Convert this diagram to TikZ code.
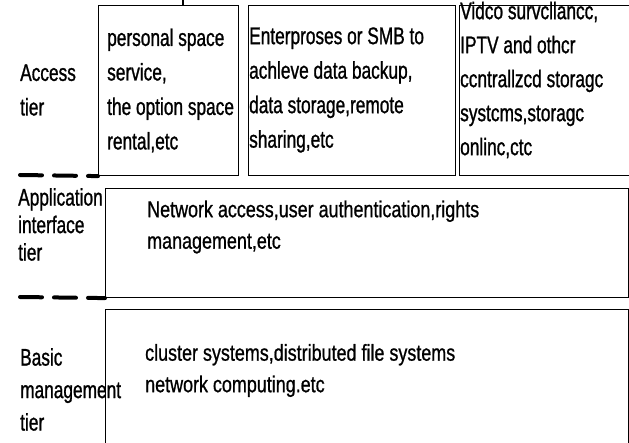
\documentclass[tikz,border=0pt]{standalone}
\usepackage{fontspec}
\setmainfont{Liberation Sans}
\newfontfamily\narrowfont[FakeStretch=0.72,FakeBold=1]{Liberation Sans}
\newfontfamily\bodyfont[FakeStretch=0.78,FakeBold=0.8]{Liberation Sans}
\usetikzlibrary{positioning}

\tikzset{
  tierbox/.style={draw,line width=1.1pt,inner sep=0pt,anchor=north west},
  tiertext/.style={align=left,anchor=west,inner sep=0pt,font=\narrowfont\fontsize{24}{#1}\selectfont},
  tiertext/.default=34.5,
  bodytext/.style={align=left,anchor=west,inner sep=0pt,font=\bodyfont\fontsize{23}{31.5}\selectfont},
  tierline/.style={line width=4pt,line cap=round,dash pattern=on 22pt off 12pt}
}

\begin{document}
\begin{tikzpicture}[x=1pt,y=-1pt]
	\useasboundingbox (0,0) rectangle (629,443);

	% boxes
	\node[tierbox,minimum width=140pt,minimum height=170pt] (personal) at (98,5) {};
	\node[tierbox,minimum width=207pt,minimum height=170pt,right=9pt of personal] (enterprise) {};
	\node[tierbox,minimum width=170pt,minimum height=170pt,right=3pt of enterprise] (video) {};
	\node[tierbox,minimum width=523pt,minimum height=109pt] (app) at (105,188) {};
	\node[tierbox,minimum width=523pt,minimum height=145pt] (basic) at (105,309) {};

	% labels and texts
	\node[tiertext] (access-lbl) at (20,90) {Access\\tier};
	\node[tiertext] (personal-txt) at (107,90.5) {personal space\\service,\\the option space\\rental,etc};
	\node[tiertext] (enterprise-txt) at (249,90) {Enterproses or SMB to\\achleve data backup,\\data storage,remote\\sharing,etc};
	\node[tiertext=34] (video-txt) at (460,80) {Vidco survcllancc,\\IPTV and othcr\\ccntrallzcd storagc\\systcms,storagc\\onlinc,ctc};
	\node[tiertext=27.5] (app-lbl) at (18,224.5) {Application\\interface\\tier};
	\node[bodytext] (app-txt) at (147,227) {Network access,user authentication,rights\\management,etc};
	\node[tiertext=32.5] (basic-lbl) at (20,389.5) {Basic\\management\\tier};
	\node[bodytext] (basic-txt) at (145,370.5) {cluster systems,distributed file systems\\network computing.etc};

	% tier borders
	\coordinate (access-dash) at (20,175);
	\coordinate (app-dash) at (20,297);
	\coordinate (stub) at (183,0);
	\draw[tierline] (access-dash) -- (personal.south west);
	\draw[tierline] (app-dash) -- (app.south west);
	\draw[line width=1.1pt] (stub) -- (stub |- personal.north);
\end{tikzpicture}
\end{document}
